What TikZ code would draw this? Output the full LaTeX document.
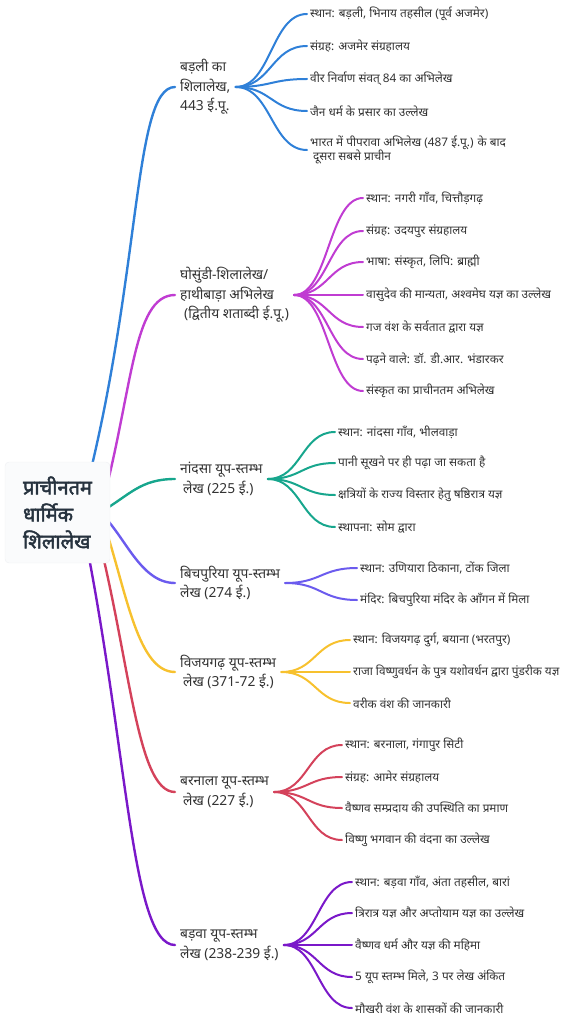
\documentclass[tikz,border=0pt]{standalone}
\usepackage{fontspec}
\setmainfont[Script=Devanagari]{Noto Sans}
\newfontfamily\rootfont[Script=Devanagari, FakeBold=2.2]{Noto Sans}
\usetikzlibrary{calc}
\pgfdeclarelayer{bg}
\pgfsetlayers{bg,main}
\definecolor{cblue}{HTML}{2F80D8}
\definecolor{cmag}{HTML}{C03CD2}
\definecolor{cteal}{HTML}{17A68D}
\definecolor{cviob}{HTML}{6B5BEE}
\definecolor{cyel}{HTML}{F7C12E}
\definecolor{cred}{HTML}{D4425B}
\definecolor{cvio}{HTML}{7A18C9}
\definecolor{txt}{HTML}{333333}
\definecolor{roottext}{HTML}{27333F}
\definecolor{rootfill}{HTML}{FAFBFC}
\definecolor{rootedge}{HTML}{EEF0F3}
\tikzset{
  rootbox/.style={draw=rootedge, fill=rootfill, rounded corners=4pt, minimum width=105pt, minimum height=101pt, align=left, text=roottext, font=\rootfont\fontsize{20}{27}\selectfont, inner sep=0pt},
  mainnode/.style={anchor=west, align=left, inner xsep=5pt, inner ysep=2pt, text=txt, font=\fontsize{13.8}{19.5}\selectfont},
  leaf/.style={anchor=west, align=left, inner xsep=3pt, inner ysep=1pt, text=txt, font=\fontsize{11.8}{14.5}\selectfont},
  rootlink/.style={line width=2.4pt, line cap=round},
  leaflink/.style={line width=2pt, line cap=round},
}
\newcommand{\leafconn}[3]{\draw[leaflink,#3] let \p1=(#1.east), \p2=(#2.west) in (\p1) .. controls ({0.5*\x1+0.5*\x2},\y1) and ({0.5*\x1+0.5*\x2},\y2) .. (\p2);}
\begin{document}
\begin{tikzpicture}[x=1pt,y=-1pt]
\useasboundingbox (0,0) rectangle (577,1024);
% root
\node[rootbox] (root) at (57.5,512.5) {प्राचीनतम\\धार्मिक\\शिलालेख};
% main nodes
\node[mainnode] (m1) at (175,87) {बड़ली का\\शिलालेख,\\443 ई.पू.};
\node[mainnode] (m2) at (175,295) {घोसुंडी-शिलालेख/\\हाथीबाड़ा अभिलेख\\\hspace*{4pt}(द्वितीय शताब्दी ई.पू.)};
\node[mainnode] (m3) at (175,479) {नांदसा यूप-स्तम्भ\\\hspace*{3pt}लेख (225 ई.)};
\node[mainnode] (m4) at (175,583) {बिचपुरिया यूप-स्तम्भ\\लेख (274 ई.)};
\node[mainnode] (m5) at (175,672) {विजयगढ़ यूप-स्तम्भ\\\hspace*{3pt}लेख (371-72 ई.)};
\node[mainnode] (m6) at (175,792) {बरनाला यूप-स्तम्भ\\\hspace*{3pt}लेख (227 ई.)};
\node[mainnode] (m7) at (175,945) {बड़वा यूप-स्तम्भ\\लेख (238-239 ई.)};
% leaves group 1
\node[leaf] (a1) at (307,14) {स्थान: बड़ली, भिनाय तहसील (पूर्व अजमेर)};
\node[leaf] (a2) at (307,46) {संग्रह: अजमेर संग्रहालय};
\node[leaf] (a3) at (307,79) {वीर निर्वाण संवत् 84 का अभिलेख};
\node[leaf] (a4) at (307,111) {जैन धर्म के प्रसार का उल्लेख};
\node[leaf] (a5) at (307,150) {भारत में पीपरावा अभिलेख (487 ई.पू.) के बाद\\\hspace*{3pt}दूसरा सबसे प्राचीन};
% group 2
\node[leaf] (b1) at (363,198) {स्थान: नगरी गाँव, चित्तौड़गढ़};
\node[leaf] (b2) at (363,231) {संग्रह: उदयपुर संग्रहालय};
\node[leaf] (b3) at (363,262) {भाषा: संस्कृत, लिपि: ब्राह्मी};
\node[leaf] (b4) at (363,295) {वासुदेव की मान्यता, अश्वमेघ यज्ञ का उल्लेख};
\node[leaf] (b5) at (363,327) {गज वंश के सर्वतात द्वारा यज्ञ};
\node[leaf] (b6) at (363,359) {पढ़ने वाले: डॉ. डी.आर. भंडारकर};
\node[leaf] (b7) at (363,391) {संस्कृत का प्राचीनतम अभिलेख};
% group 3
\node[leaf] (c1) at (335,432) {स्थान: नांदसा गाँव, भीलवाड़ा};
\node[leaf] (c2) at (335,463) {पानी सूखने पर ही पढ़ा जा सकता है};
\node[leaf] (c3) at (335,495) {क्षत्रियों के राज्य विस्तार हेतु षष्ठिरात्र यज्ञ};
\node[leaf] (c4) at (335,527) {स्थापना: सोम द्वारा};
% group 4
\node[leaf] (d1) at (357,568) {स्थान: उणियारा ठिकाना, टोंक जिला};
\node[leaf] (d2) at (357,600) {मंदिर: बिचपुरिया मंदिर के आँगन में मिला};
% group 5
\node[leaf] (e1) at (350,640) {स्थान: विजयगढ़ दुर्ग, बयाना (भरतपुर)};
\node[leaf] (e2) at (350,672) {राजा विष्णुवर्धन के पुत्र यशोवर्धन द्वारा पुंडरीक यज्ञ};
\node[leaf] (e3) at (350,703) {वरीक वंश की जानकारी};
% group 6
\node[leaf] (f1) at (342,745) {स्थान: बरनाला, गंगापुर सिटी};
\node[leaf] (f2) at (342,777) {संग्रह: आमेर संग्रहालय};
\node[leaf] (f3) at (342,808) {वैष्णव सम्प्रदाय की उपस्थिति का प्रमाण};
\node[leaf] (f4) at (342,840) {विष्णु भगवान की वंदना का उल्लेख};
% group 7
\node[leaf] (g1) at (352,882) {स्थान: बड़वा गाँव, अंता तहसील, बारां};
\node[leaf] (g2) at (352,913) {त्रिरात्र यज्ञ और अप्तोयाम यज्ञ का उल्लेख};
\node[leaf] (g3) at (352,945) {वैष्णव धर्म और यज्ञ की महिमा};
\node[leaf] (g4) at (352,977) {5 यूप स्तम्भ मिले, 3 पर लेख अंकित};
\node[leaf] (g5) at (352,1008) {मौखरी वंश के शासकों की जानकारी};

\begin{pgfonlayer}{bg}
% root links
\draw[rootlink,cblue] ([xshift=22.5pt]root.center) .. controls (142,285) and (132,87) .. (m1.west);
\draw[rootlink,cmag] ([xshift=42.5pt]root.center) .. controls (133,393) and (132,295) .. (m2.west);
\draw[rootlink,cteal] ([xshift=42.5pt]root.center) .. controls (130,495) and (140,479) .. (m3.west);
\draw[rootlink,cviob] ([xshift=42.5pt]root.center) .. controls (125,535) and (140,583) .. (m4.west);
\draw[rootlink,cyel] ([xshift=42.5pt]root.center) .. controls (125,580) and (135,672) .. (m5.west);
\draw[rootlink,cred] ([xshift=34.5pt]root.center) .. controls (130,650) and (135,792) .. (m6.west);
\draw[rootlink,cvio] ([xshift=22.5pt]root.center) .. controls (128,740) and (130,945) .. (m7.west);
% leaf links
\foreach \lf in {a1,a2,a3,a4,a5}{\leafconn{m1}{\lf}{cblue}}
\foreach \lf in {b1,b2,b3,b4,b5,b6,b7}{\leafconn{m2}{\lf}{cmag}}
\foreach \lf in {c1,c2,c3,c4}{\leafconn{m3}{\lf}{cteal}}
\foreach \lf in {d1,d2}{\leafconn{m4}{\lf}{cviob}}
\foreach \lf in {e1,e2,e3}{\leafconn{m5}{\lf}{cyel}}
\foreach \lf in {f1,f2,f3,f4}{\leafconn{m6}{\lf}{cred}}
\foreach \lf in {g1,g2,g3,g4,g5}{\leafconn{m7}{\lf}{cvio}}
\end{pgfonlayer}
\end{tikzpicture}
\end{document}
